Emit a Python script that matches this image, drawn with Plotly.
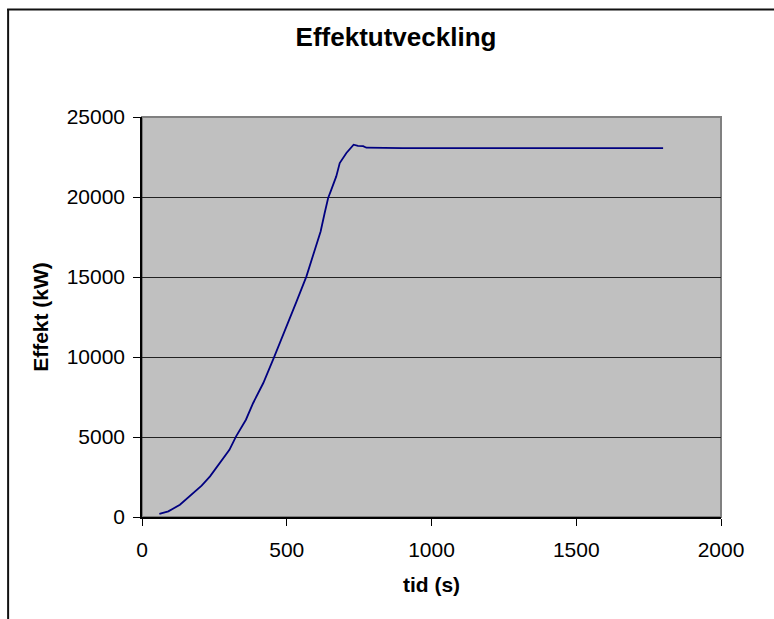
import plotly.graph_objects as go

# Power build-up over time
tid_s = [60, 91, 131, 177, 206, 235, 269, 302, 325, 359, 384, 413, 419, 456, 505,
         534, 568, 597, 617, 631, 643, 654, 671, 683, 706, 731, 746, 764, 775,
         900, 1200, 1437, 1600, 1800]
effekt_kw = [190, 350, 770, 1500, 1960, 2540, 3375, 4200, 5040, 6080, 7125, 8160, 8375,
             9975, 12125, 13475, 15040, 16700, 17850, 19000, 19940, 20460, 21290,
             22125, 22750, 23270, 23200, 23180, 23080, 23060, 23060, 23060, 23060, 23060]

x_ticks = [0, 500, 1000, 1500, 2000]
y_ticks = [0, 5000, 10000, 15000, 20000, 25000]

FONT = "Liberation Sans, Arial, sans-serif"

fig = go.Figure()
fig.add_trace(go.Scatter(
    x=tid_s, y=effekt_kw, mode="lines",
    line=dict(color="#000080", width=1.8),
    showlegend=False, hoverinfo="x+y",
))

L, R, T, B = 142, 52.5, 117, 102
pw = 774 - L - R
ph = 619 - T - B

def px_x(p):
    return (p - L) / pw

def px_y(p):
    return (619 - B - p) / ph

shapes = [
    # plot-area frame (top/right grey)
    dict(type="rect", xref="paper", yref="paper", x0=0, y0=0, x1=1, y1=1,
         line=dict(color="#808080", width=2), layer="below"),
    # outer chart frame (top and left edges)
    dict(type="line", xref="paper", yref="paper",
         x0=px_x(7), x1=px_x(775), y0=px_y(9.5), y1=px_y(9.5),
         line=dict(color="#111111", width=2)),
    dict(type="line", xref="paper", yref="paper",
         x0=px_x(8), x1=px_x(8), y0=px_y(9), y1=px_y(620),
         line=dict(color="#111111", width=2)),
]

fig.update_layout(
    width=774, height=619,
    margin=dict(l=L, r=R, t=T, b=B, autoexpand=False),
    paper_bgcolor="white", plot_bgcolor="#C0C0C0",
    font=dict(family=FONT, color="black", size=20),
    title=dict(text="<b>Effektutveckling</b>", font=dict(size=26, family=FONT),
               x=396 / 774, xanchor="center", y=1 - 37 / 619, yanchor="middle"),
    shapes=shapes,
    xaxis=dict(
        range=[0, 2000], tickvals=x_ticks, ticktext=[str(v) for v in x_ticks],
        ticks="outside", ticklen=7,
        tickcolor="black", showline=True, linecolor="black", linewidth=1.5,
        showgrid=False, zeroline=False, tickfont=dict(size=21),
        ticklabelstandoff=6,
        title=dict(text="<b>tid (s)</b>", font=dict(size=21), standoff=17),
    ),
    yaxis=dict(
        range=[0, 25000], tickvals=y_ticks, ticktext=[str(v) for v in y_ticks],
        ticks="outside", ticklen=7,
        tickcolor="black", showline=True, linecolor="black", linewidth=1.5,
        showgrid=True, gridcolor="#222222", gridwidth=1, zeroline=False,
        tickfont=dict(size=21), ticklabelstandoff=4,
        title=dict(text="<b>Effekt (kW)</b>", font=dict(size=21), standoff=12),
    ),
)

fig.write_html("out.html")
